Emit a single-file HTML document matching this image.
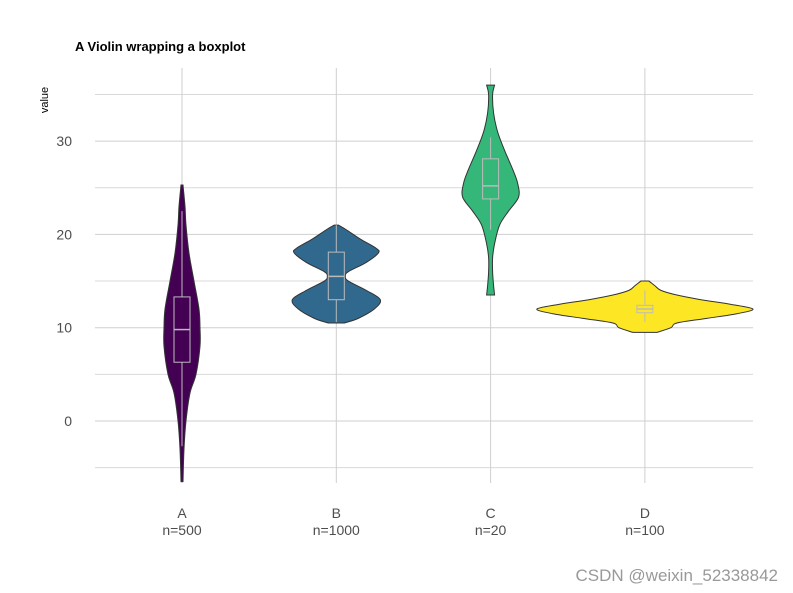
<!DOCTYPE html>
<html><head><meta charset="utf-8"><style>
body{margin:0;background:#fff;}
svg{display:block;font-family:"Liberation Sans",Arial,sans-serif;}
</style></head><body>
<svg id="chart" width="793" height="593">
<text x="75" y="51" font-size="13" font-weight="bold" fill="#000">A Violin wrapping a boxplot</text>
<text transform="translate(48,100) rotate(-90)" font-size="11" fill="#000" text-anchor="middle">value</text>
<g id="grid"></g><g id="marks"></g><g id="axes"></g>
<text x="778" y="581" font-size="17" fill="#999" text-anchor="end">CSDN @weixin_52338842</text>
</svg>
<script>
const categories=["A","B","C","D"];
const counts=[500,1000,20,100];
const colors=["#440154","#31688E","#35B779","#FDE725"];
const yTicks=[0,10,20,30];
const yMinor=[-5,5,15,25,35];
const densA=[[-6.5,1],[-3,2],[0,4],[3,8],[5,14],[8,18],[10,18],[12,17],[15,12],[18,7],[21,4],[23,3],[25.3,1]];
const densB=[[10.5,8],[11,22],[12,38],[13,44],[14,30],[15,12],[15.5,9],[16,12],[17,30],[18,42],[18.5,40],[19.5,24],[20.5,10],[21,2]];
const densC=[[13.5,4],[14.5,3],[16,2],[17.5,2],[19,4],[21,9],[22.5,18],[24,28],[25.5,27],[27,22],[29,14],[31,7],[33,3],[35,2],[36,4]];
const densD=[[9.5,12],[10,26],[10.5,32],[11,62],[11.5,92],[12,108],[12.5,86],[13,56],[13.5,32],[14,16],[14.5,10],[15,4]];
const dens=[densA,densB,densC,densD];
const q1=[6.3,13,23.8,11.6],med=[9.8,15.5,25.2,12],q3=[13.3,18.1,28.1,12.4];
const wLo=[-2.7,10.6,20.5,10.6],wHi=[22.5,21,30.4,14];
const X0=182,DX=154.3;
function xS(i){return X0+i*DX;}
function yS(v){return 421-v*9.33;}
const NS="http://www.w3.org/2000/svg";
function mk(t,a,p){const e=document.createElementNS(NS,t);for(const k in a)e.setAttribute(k,a[k]);p.appendChild(e);return e;}
function smooth(pts){let s=`M${pts[0][0]},${pts[0][1]}`;
for(let i=0;i<pts.length-1;i++){const p0=pts[Math.max(0,i-1)],p1=pts[i],p2=pts[i+1],p3=pts[Math.min(pts.length-1,i+2)];
s+=` C${p1[0]+(p2[0]-p0[0])/6},${p1[1]+(p2[1]-p0[1])/6} ${p2[0]-(p3[0]-p1[0])/6},${p2[1]-(p3[1]-p1[1])/6} ${p2[0]},${p2[1]}`;}
return s;}
const grid=document.getElementById('grid'),marks=document.getElementById('marks'),axes=document.getElementById('axes');
yMinor.forEach(v=>{const l=mk('line',{x1:95,x2:753,y1:yS(v),y2:yS(v),stroke:'#d9d9d9','stroke-width':1},grid);

});
yTicks.forEach(v=>{const l=mk('line',{x1:95,x2:753,y1:yS(v),y2:yS(v),stroke:'#cfcfcf','stroke-width':1},grid);


const t=mk('text',{x:72,y:yS(v)+5,'font-size':14,fill:'#4d4d4d','text-anchor':'end'},axes);t.textContent=v;

});
categories.forEach((c,i)=>{const x=xS(i);
const l=mk('line',{x1:x,x2:x,y1:68,y2:483,stroke:'#cfcfcf','stroke-width':1},grid);


const t=mk('text',{x:x,y:518,'font-size':14,fill:'#4d4d4d','text-anchor':'middle'},axes);t.textContent=c;


const n=mk('text',{x:x,y:535,'font-size':14,fill:'#4d4d4d','text-anchor':'middle'},axes);n.textContent='n='+counts[i];


const d=dens[i];
const right=d.map(([v,w])=>[x+w,yS(v)]);
const left=d.slice().reverse().map(([v,w])=>[x-w,yS(v)]);
const dp=smooth(right)+' L'+left[0][0]+','+left[0][1]+' '+smooth(left).slice(1).replace(/^[^C]*/,'')+' Z';
const poly=mk('path',{d:dp,fill:colors[i],stroke:'#333','stroke-width':1},marks);


const g=mk('g',{stroke:'#bbb','stroke-width':1,fill:'none'},marks);


mk('line',{x1:x,x2:x,y1:yS(wHi[i]),y2:yS(q3[i])},g);
mk('line',{x1:x,x2:x,y1:yS(q1[i]),y2:yS(wLo[i])},g);
mk('rect',{x:x-8,y:yS(q3[i]),width:16,height:yS(q1[i])-yS(q3[i])},g);
mk('line',{x1:x-8,x2:x+8,y1:yS(med[i]),y2:yS(med[i]),'stroke-width':1.5},g);
});
</script>
</body></html>
